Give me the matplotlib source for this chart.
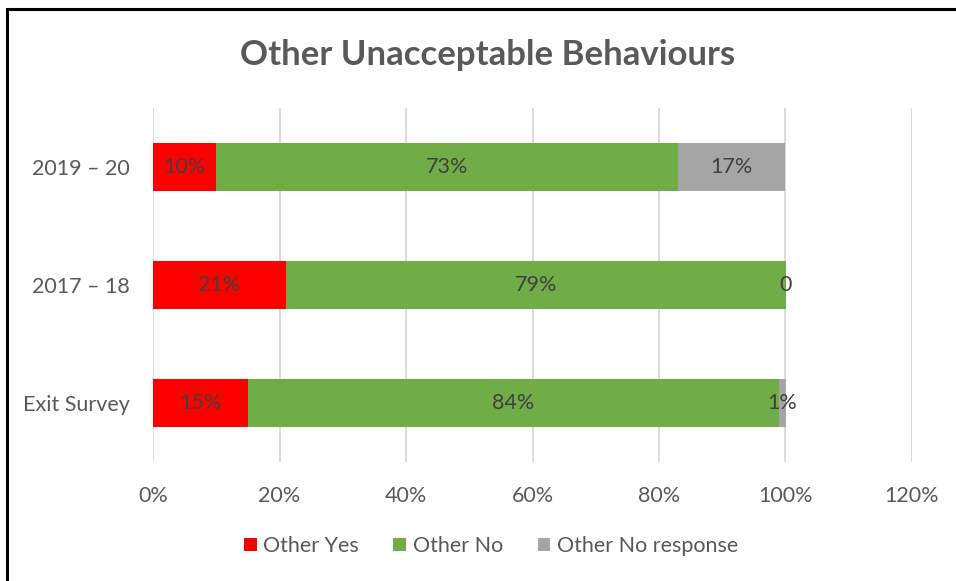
import matplotlib.pyplot as plt
from matplotlib.patches import Rectangle

categories = ["Exit Survey", "2017 – 18", "2019 – 20"]
other_yes = [15, 21, 10]
other_no = [84, 79, 73]
other_no_response = [1, 0, 17]

series = [
    ("Other Yes", other_yes, "#FF0000"),
    ("Other No", other_no, "#70AD47"),
    ("Other No response", other_no_response, "#A5A5A5"),
]

plt.rcParams["font.family"] = ["Lato", "DejaVu Sans"]

fig = plt.figure(figsize=(9.56, 5.81), dpi=100)
ax = fig.add_axes([153 / 956, 1 - 462 / 581, (912 - 153) / 956, (462 - 108) / 581])

left = [0] * len(categories)
for name, vals, color in series:
    ax.barh(categories, vals, left=left, height=0.4, color=color, label=name, zorder=2)
    for i, v in enumerate(vals):
        txt = f"{v}%" if v else "0"
        ax.text(left[i] + v / 2, i, txt, ha="center", va="center",
                fontsize=15.5, color="#404040", zorder=3)
    left = [a + b for a, b in zip(left, vals)]

ax.set_xlim(0, 120)
ax.set_ylim(-0.5, 2.5)
ax.set_xticks(range(0, 121, 20))
ax.set_xticklabels([f"{t}%" for t in range(0, 121, 20)])
ax.grid(axis="x", color="#D9D9D9", linewidth=1.3, zorder=0)
ax.set_axisbelow(True)
for s in ax.spines.values():
    s.set_visible(False)
ax.tick_params(length=0, labelsize=15.5, colors="#595959")
ax.tick_params(axis="x", pad=17)
ax.tick_params(axis="y", pad=17)

fig.text(488 / 956, 1 - 55 / 581, "Other Unacceptable Behaviours", ha="center",
         va="center", fontsize=25, fontweight="bold", color="#595959")

fig.legend(loc="center", bbox_to_anchor=(491 / 956, 1 - 546 / 581), ncol=3,
           frameon=False, fontsize=15.5, labelcolor="#595959", handlelength=0.6,
           handleheight=0.6, handletextpad=0.3, columnspacing=1.6)

# chart border (left and top edges visible in the reference)
fig.add_artist(Rectangle((7 / 956, -0.1), 1.2, (1 - 9 / 581) + 0.1,
                         transform=fig.transFigure, fill=False,
                         edgecolor="black", linewidth=2.2))

fig.savefig("out.png", dpi=100)
